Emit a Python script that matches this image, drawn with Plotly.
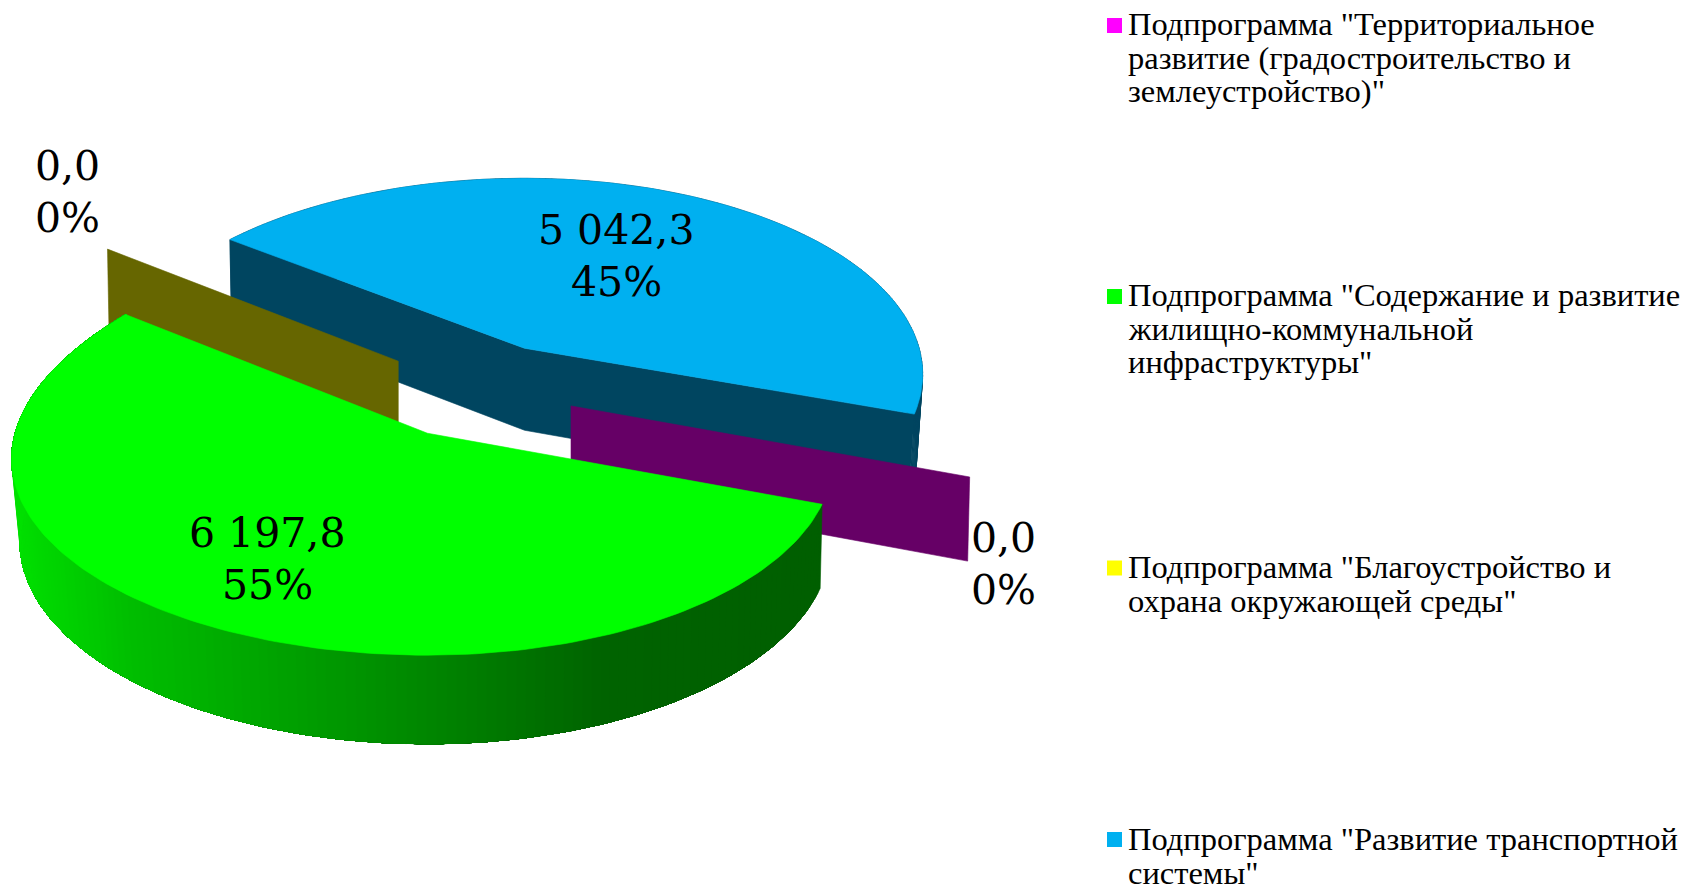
import numpy as np
import plotly.graph_objects as go

# ---- data ----
categories = ['Подпрограмма "Территориальное развитие (градостроительство и землеустройство)"',
              'Подпрограмма "Содержание и развитие жилищно-коммунальной инфраструктуры"',
              'Подпрограмма "Благоустройство и охрана окружающей среды"',
              'Подпрограмма "Развитие транспортной системы"']
values = [0.0, 6197.8, 0.0, 5042.3]
top_colors = ['#FF00FF', '#00FF00', '#FFFF00', '#00B0F0']
side_colors = ['#660066', None, '#666600', '#004560']
legend_lines = [['Подпрограмма "Территориальное', 'развитие (градостроительство и', 'землеустройство)"'],
                ['Подпрограмма "Содержание и развитие', 'жилищно-коммунальной', 'инфраструктуры"'],
                ['Подпрограмма "Благоустройство и', 'охрана окружающей среды"'],
                ['Подпрограмма "Развитие транспортной', 'системы"']]

# ---- layout of the projected pie ----
W, H = 1686, 884
FIRST_ANGLE = 110.6      # clockwise from 12 o'clock
EXPLODE = 0.25
CX, CY = 474, 390
A, B, K = 406, 192.5, 0.1327
DEPTH, SX, SY = 82, 0.995, 1.03
BLUE_RIGHT, BLUE_LEFT, BLUE_ROT, BLUE_SX_RIGHT = 0.972, 0.99, -1.5, 0.985
GREEN_RIGHT, GREEN_LEFT, GREEN_SHIFT, GREEN_SX_LEFT = 0.99, 1.015, (4, 1.5), 0.98
WALL_SHIFT = {0: (2, -1), 2: (3, 1.5)}
LABEL_XY = [(1003, 564), (267, 559), (67, 192), (616, 256)]
LEGEND_Y = [[23.5, 57.5, 90.5], [294.5, 328.5, 361.5], [566.5, 600.5], [838.5, 872.5]]
LEGEND_MARKER_Y = [25.5, 296.5, 568, 839.5]
GRAD_X = [10, 130, 400, 600, 830]
GRAD_G = [225, 190, 140, 100, 95]


def rim(theta, r=1.0):
    t = np.radians(theta)
    u, v = r * np.sin(t), r * np.cos(t)
    d = 1 + K * v
    return A * u / d, -B * v / d


def apex(theta):
    t = np.radians(theta)
    return CX + EXPLODE * A * np.sin(t), CY - EXPLODE * B * np.cos(t)


def poly(fig, xs, ys, color):
    xs, ys = list(xs), list(ys)
    fig.add_trace(go.Scatter(x=xs + xs[:1], y=ys + ys[:1], mode='lines', fill='toself', fillcolor=color,
                             line=dict(color=color, width=0.6), hoverinfo='skip', showlegend=False))


total = sum(values)
starts, spans = [], []
acc = FIRST_ANGLE
for v in values:
    starts.append(acc)
    spans.append(v / total * 360)
    acc += spans[-1]

fig = go.Figure()


def bottom(ax, ay, dx, dy, sx=SX):
    return ax + sx * dx, ay + SY * dy + DEPTH


# blue slice: rim side and cut faces, then the top
mid = starts[3] + spans[3] / 2
ax, ay = apex(mid)
th = np.linspace(starts[3], starts[3] + spans[3], 160) + BLUE_ROT
dx, dy = rim(th)
dx = np.where(dx > 0, dx * BLUE_RIGHT, dx * BLUE_LEFT)
bx, by = bottom(ax, ay, dx, dy, np.where(dx > 0, BLUE_SX_RIGHT, SX))
b0x, b0y = bottom(ax, ay, 0.0, 0.0)
for j in range(0, len(dx) - 1):
    poly(fig, [ax + dx[j], ax + dx[j + 1], bx[j + 1], bx[j]],
         [ay + dy[j], ay + dy[j + 1], by[j + 1], by[j]], side_colors[3])
poly(fig, [ax, ax + dx[0], bx[0], b0x, bx[-1], ax + dx[-1]],
     [ay, ay + dy[0], by[0], b0y, by[-1], ay + dy[-1]], side_colors[3])
poly(fig, np.r_[ax, ax + dx], np.r_[ay, ay + dy], top_colors[3])

# zero-size slices: only a radial wall is left
for i in (2, 0):
    ax0, ay0 = apex(starts[i])
    ax0 += WALL_SHIFT[i][0]
    ay0 += WALL_SHIFT[i][1]
    d0x, d0y = rim(starts[i])
    rx, ry = bottom(ax0, ay0, d0x, d0y)
    b0x, b0y = bottom(ax0, ay0, 0.0, 0.0)
    poly(fig, [ax0, ax0 + d0x, rx, b0x], [ay0, ay0 + d0y, ry, b0y], side_colors[i])

# green slice: shaded side (each strip overpaints the rest so no seams show), then the top
mid = starts[1] + spans[1] / 2
ax, ay = apex(mid)
ax += GREEN_SHIFT[0]
ay += GREEN_SHIFT[1]
th = np.linspace(starts[1], starts[1] + spans[1], 161)
dx, dy = rim(th)
tail = np.clip((th - (th[-1] - 45)) / 45, 0, 1) ** 2
dx = dx * (1 + 0.023 * tail) * np.where(dx > 0, GREEN_RIGHT, GREEN_LEFT)
dy = dy * (1 + 0.06 * tail)
bx, by = bottom(ax, ay, dx, dy, np.where(dx > 0, SX, GREEN_SX_LEFT))
for j in range(len(dx) - 1):
    xm = ax + (dx[j] + dx[j + 1]) / 2
    g = int(np.interp(xm, GRAD_X, GRAD_G))
    c = f'rgb(0,{g},0)'
    k = list(range(j, len(dx)))
    poly(fig, np.r_[ax + dx[k], bx[k][::-1]], np.r_[ay + dy[k], by[k][::-1]], c)
poly(fig, np.r_[ax, ax + dx], np.r_[ay, ay + dy], top_colors[1])


def fmt(v):
    return f'{v:,.1f}'.replace(',', ' ').replace('.', ',')


LABEL_FONT = dict(family='DejaVu Serif', size=41, color='#000000')
for i, (v, xy) in enumerate(zip(values, LABEL_XY)):
    pct = round(v / total * 100)
    fig.add_annotation(x=xy[0], y=xy[1] - 26, text=fmt(v), showarrow=False, font=LABEL_FONT,
                       xanchor='center', yanchor='middle')
    fig.add_annotation(x=xy[0], y=xy[1] + 26, text=f'{pct}%', showarrow=False, font=LABEL_FONT,
                       xanchor='center', yanchor='middle')

# legend
LEG_FONT = dict(family='Liberation Serif', size=32.5, color='#000000')
for color, my, lines, ys in zip(top_colors, LEGEND_MARKER_Y, legend_lines, LEGEND_Y):
    fig.add_trace(go.Scatter(x=[1114.5], y=[my], mode='markers', showlegend=False, hoverinfo='skip',
                             marker=dict(symbol='square', size=15, color=color, line=dict(width=0))))
    for t, y in zip(lines, ys):
        fig.add_annotation(x=1128, y=y, text=t, showarrow=False, font=LEG_FONT, xanchor='left',
                           yanchor='middle', xshift=-2)

fig.update_layout(width=W, height=H, margin=dict(l=0, r=0, t=0, b=0), paper_bgcolor='white',
                  plot_bgcolor='white', autosize=False,
                  xaxis=dict(range=[0, W], visible=False, fixedrange=True),
                  yaxis=dict(range=[H, 0], visible=False, fixedrange=True))
fig.write_html('out.html', config=dict(displayModeBar=False),
               post_script="document.body.style.margin='0';document.body.style.overflow='hidden';")
